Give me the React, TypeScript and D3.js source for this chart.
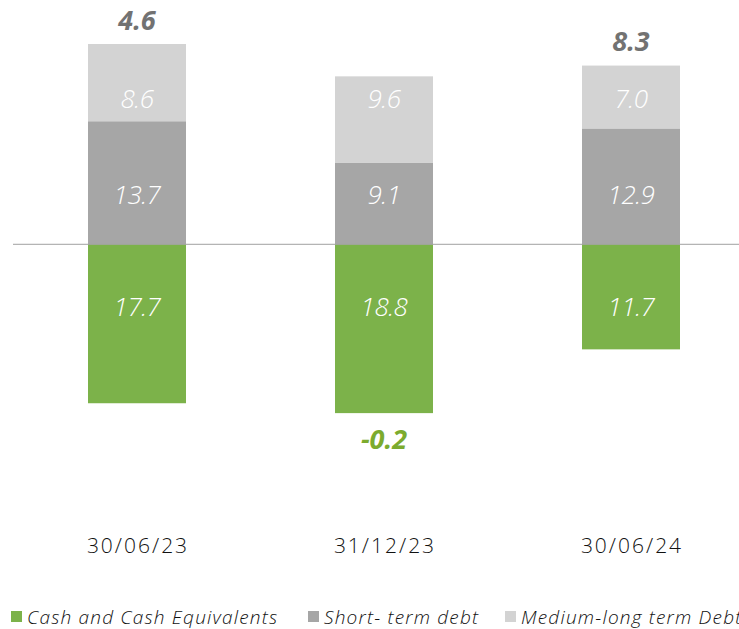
import React from "react";
import * as d3 from "d3";

const categories = ["30/06/23", "31/12/23", "30/06/24"];
const cash = [17.7, 18.8, 11.7];
const shortTerm = [13.7, 9.1, 12.9];
const mediumLong = [8.6, 9.6, 7.0];
const totals = [4.6, -0.2, 8.3];
const legendLabels = ["Cash and Cash Equivalents", "Short- term debt", "Medium-long term Debt"];

const W = 739;
const H = 629;
const GREEN = "#7cb24a";
const DARK = "#a6a6a6";
const LIGHT = "#d3d3d3";
const FONT = "'Open Sans', 'DejaVu Sans', sans-serif";

export default function App() {
  const x = d3.scalePoint<string>().domain(categories).range([13.5, 754.5]).padding(0.5);
  const y = d3.scaleLinear().domain([-20, 27]).range([423.9, 1.8]);
  const bw = 98;
  const y0 = y(0);
  // label rows (fixed band positions relative to zero line, as in the reference)
  const shortLabelY = y0 - 50;
  const medLabelY = y0 - 146;
  const cashLabelY = y0 + 62;

  const labelProps = {
    textAnchor: "middle" as const,
    fill: "#fff",
    fontSize: 26,
    fontStyle: "italic",
    fontWeight: 300,
    fontFamily: FONT,
    letterSpacing: -0.5,
    dy: "0.36em",
  };

  return (
    <svg width={W} height={H} style={{ position: "absolute", left: 0, top: 0, background: "#fff" }}>
      {categories.map((c, i) => {
        const cx = x(c)!;
        const s = shortTerm[i];
        const m = mediumLong[i];
        const k = cash[i];
        const top = y(s + m);
        const bottom = y(-k);
        return (
          <g key={c}>
            <rect x={cx - bw / 2} y={y(s)} width={bw} height={y0 - y(s)} fill={DARK} />
            <rect x={cx - bw / 2} y={y(s + m)} width={bw} height={y(s) - y(s + m)} fill={LIGHT} />
            <rect x={cx - bw / 2} y={y0} width={bw} height={y(-k) - y0} fill={GREEN} />
            <text x={cx} y={shortLabelY} {...labelProps}>{s.toFixed(1)}</text>
            <text x={cx} y={medLabelY} {...labelProps}>{m.toFixed(1)}</text>
            <text x={cx} y={cashLabelY} {...labelProps}>{k.toFixed(1)}</text>
            {totals[i] >= 0 ? (
              <text x={cx} y={top - 24} dy="0.36em" textAnchor="middle" fill="#727272"
                fontSize={27} fontStyle="italic" fontWeight={700} fontFamily={FONT}>{totals[i].toFixed(1)}</text>
            ) : (
              <text x={cx} y={bottom + 26} dy="0.36em" textAnchor="middle" fill="#7cab2e"
                fontSize={27} fontStyle="italic" fontWeight={700} fontFamily={FONT}>{totals[i].toFixed(1)}</text>
            )}
            <text x={cx + 1} y={545} dy="0.36em" textAnchor="middle" fill="#111"
              fontSize={21} fontWeight={300} fontFamily={FONT} letterSpacing={2}>{c}</text>
          </g>
        );
      })}
      <line x1={13} x2={739} y1={y0} y2={y0} stroke="#a0a0a0" strokeWidth={1} />
      {legendLabels.map((l, i) => {
        const lx = [11, 308, 505][i];
        const col = [GREEN, DARK, LIGHT][i];
        return (
          <g key={l}>
            <rect x={lx} y={611} width={11} height={11} fill={col} />
            <text x={lx + 16} y={617} dy="0.36em" fill="#111" fontSize={19} fontStyle="italic"
              fontWeight={300} fontFamily={FONT} letterSpacing={1.2}>{l}</text>
          </g>
        );
      })}
    </svg>
  );
}
